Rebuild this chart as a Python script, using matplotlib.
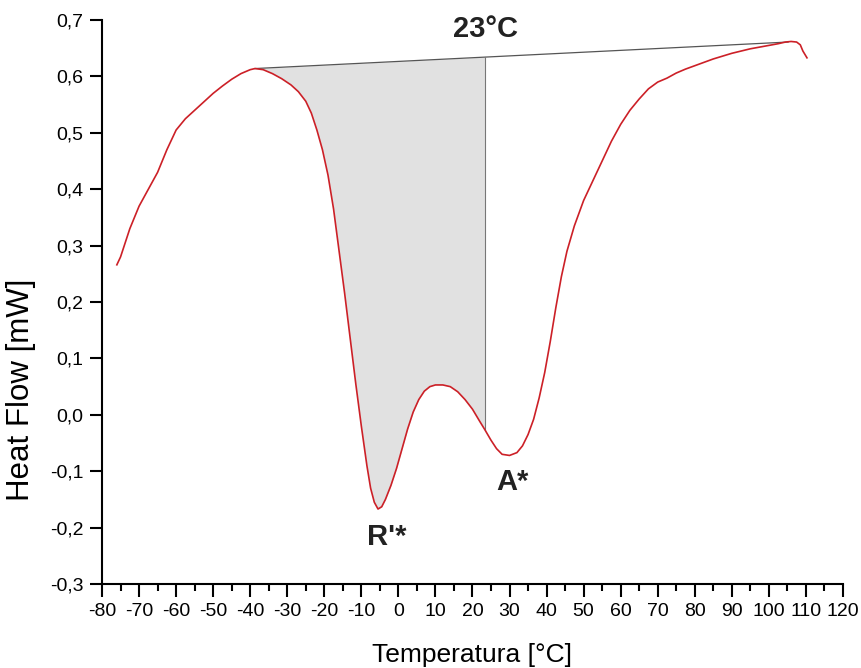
import numpy as np
import matplotlib
matplotlib.use("Agg")
import matplotlib.pyplot as plt
from matplotlib.ticker import MultipleLocator, FuncFormatter

plt.rcParams['font.family'] = ['Liberation Sans', 'DejaVu Sans']
plt.rcParams['axes.unicode_minus'] = False

# DSC curve
temp = [-76.0, -75.0, -72.5, -70.0, -67.5, -65.0, -62.5, -60.0, -57.5, -55.0,
        -52.5, -50.0, -47.5, -45.0, -42.5, -40.0, -38.7, -36.5, -34.0, -31.5,
        -29.0, -27.0, -25.0, -23.5, -22.0, -20.5, -19.0, -17.5, -16.0, -14.5,
        -13.0, -11.5, -10.0, -8.5, -7.5, -6.5, -5.5, -4.5, -3.5, -2.0,
        -0.5, 1.0, 2.5, 4.0, 5.5, 7.0, 8.5, 10.0, 12.0, 14.0,
        16.0, 18.0, 20.0, 22.0, 23.4, 25.0, 26.5, 28.0, 30.0, 32.0,
        33.5, 35.0, 36.5, 38.0, 39.5, 41.0, 42.5, 44.0, 45.5, 47.5,
        50.0, 52.5, 55.0, 57.5, 60.0, 62.5, 65.0, 67.5, 70.0, 72.5,
        75.0, 77.5, 80.0, 82.5, 85.0, 87.5, 90.0, 92.5, 95.0, 97.5,
        100.0, 102.5, 104.5, 106.0, 107.5, 108.5, 109.2, 110.3]
heat = [0.266, 0.280, 0.330, 0.370, 0.400, 0.430, 0.470, 0.505, 0.525, 0.540,
        0.555, 0.570, 0.583, 0.595, 0.605, 0.612, 0.614, 0.612, 0.605, 0.596,
        0.585, 0.573, 0.556, 0.535, 0.505, 0.470, 0.425, 0.365, 0.290, 0.215,
        0.135, 0.055, -0.020, -0.090, -0.130, -0.155, -0.167, -0.163, -0.150, -0.125,
        -0.095, -0.060, -0.025, 0.005, 0.027, 0.042, 0.050, 0.053, 0.053, 0.050,
        0.041, 0.027, 0.010, -0.012, -0.027, -0.045, -0.060, -0.070, -0.072, -0.067,
        -0.055, -0.035, -0.008, 0.030, 0.075, 0.130, 0.190, 0.245, 0.290, 0.335,
        0.380, 0.415, 0.450, 0.485, 0.515, 0.540, 0.560, 0.578, 0.590, 0.597,
        0.606, 0.613, 0.619, 0.625, 0.631, 0.636, 0.641, 0.645, 0.649, 0.652,
        0.655, 0.658, 0.661, 0.662, 0.661, 0.656, 0.645, 0.633]

# baseline end points and the split temperature
base_t = [-38.7, 105.2]
base_h = [0.614, 0.661]
t_split = 23.4

temp = np.array(temp)
heat = np.array(heat)

fig = plt.figure(figsize=(8.61, 6.68), dpi=100)
ax = fig.add_axes([0.1185, 0.1257, 0.8605, 0.8443])

# shaded area between baseline and curve
mask = (temp > base_t[0]) & (temp < t_split)
tf = np.concatenate([[base_t[0]], temp[mask], [t_split]])
hf = np.interp(tf, temp, heat)
bf = np.interp(tf, base_t, base_h)
ax.fill_between(tf, hf, bf, color='#e1e1e1', lw=0)

ax.plot(base_t, base_h, color='#555555', lw=0.9)
ax.plot([t_split, t_split], [np.interp(t_split, temp, heat), np.interp(t_split, base_t, base_h)],
        color='#777777', lw=0.8)
ax.plot(temp, heat, color='#cc2027', lw=1.2)

ax.text(23.6, 0.684, '23°C', fontsize=21, fontweight='bold', ha='center', va='center', color='#222222')
ax.text(-3.1, -0.217, "R'*", fontsize=21, fontweight='bold', ha='center', va='center', color='#222222')
ax.text(30.9, -0.119, 'A*', fontsize=21, fontweight='bold', ha='center', va='center', color='#222222')

ax.set_xlim(-80, 120)
ax.set_ylim(-0.3, 0.7)
ax.xaxis.set_major_locator(MultipleLocator(10))
ax.xaxis.set_minor_locator(MultipleLocator(5))
ax.yaxis.set_major_locator(MultipleLocator(0.1))
ax.yaxis.set_major_formatter(FuncFormatter(lambda v, p: f'{v:.1f}'.replace('.', ',').replace('-0,0', '0,0')))

for s in ['top', 'right']:
    ax.spines[s].set_visible(False)
for s in ['left', 'bottom']:
    ax.spines[s].set_linewidth(1.5)
ax.tick_params(which='major', length=9, width=1.5, labelsize=14, direction='out')
ax.tick_params(axis='x', which='major', pad=5)
ax.tick_params(axis='y', which='major', pad=4.5)
ax.tick_params(which='minor', length=5, width=1.5, direction='out')

ax.set_xlabel('Temperatura [°C]', fontsize=19, labelpad=16)
ax.set_ylabel('Heat Flow [mW]', fontsize=22.5)
ax.yaxis.set_label_coords(-0.089, 0.345)

fig.savefig('out.png', dpi=100)
